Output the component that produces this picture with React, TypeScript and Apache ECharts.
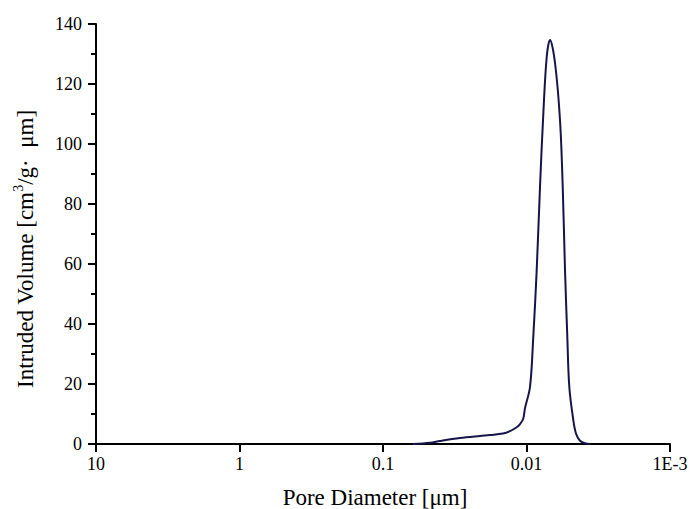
import React, { useEffect, useRef } from "react";
import * as echarts from "echarts";

// Pore diameter (µm) and intruded volume (cm³/g·µm)
const diameters = [
  0.0618, 0.0470, 0.0401, 0.0291, 0.0211, 0.0180, 0.01458, 0.01303, 0.0117,
  0.0111, 0.01053, 0.01024, 0.009454, 0.008967, 0.008489, 0.008051, 0.007636,
  0.00723, 0.006857, 0.006327, 0.005842, 0.005593, 0.005391, 0.005196,
  0.005031, 0.00472, 0.00452, 0.004239, 0.003912, 0.003611,
];
const volumes = [
  0, 0.4, 1.0, 2.0, 2.7, 3.0, 3.5, 4.3, 5.6,
  6.6, 8.5, 12, 19, 35.8, 58, 85.8, 110,
  129, 134.7, 127, 108, 85.8, 58, 35.8,
  19, 8, 3.5, 1.1, 0.3, 0,
];
const xTickLabels: Record<string, string> = {
  "1": "10",
  "0": "1",
  "-1": "0.1",
  "-2": "0.01",
  "-3": "1E-3",
};
const yTicks = { min: 0, max: 140, interval: 20 };

const FONT = "Liberation Serif";

export default function App() {
  const ref = useRef<HTMLDivElement>(null);
  useEffect(() => {
    if (!ref.current) return;
    const chart = echarts.init(ref.current, null, { renderer: "svg" });
    const data = diameters.map((d, i) => [d, volumes[i]]);
    chart.setOption({
      animation: false,
      backgroundColor: "#ffffff",
      textStyle: { fontFamily: FONT },
      grid: { left: 96, right: 21, top: 24, bottom: 65 },
      xAxis: {
        type: "log",
        logBase: 10,
        min: 0.001,
        max: 10,
        inverse: true,
        axisLine: { show: true, onZero: false, lineStyle: { color: "#000", width: 2 } },
        axisTick: { show: true, inside: false, length: 8, lineStyle: { color: "#000", width: 2 } },
        minorTick: { show: false },
        splitLine: { show: false },
        axisLabel: {
          color: "#000",
          fontFamily: FONT,
          fontSize: 18,
          margin: 11,
          formatter: (v: number) => {
            const k = String(Math.round(Math.log10(v)));
            return xTickLabels[k] ?? String(v);
          },
        },
      },
      yAxis: {
        type: "value",
        min: yTicks.min,
        max: yTicks.max,
        interval: yTicks.interval,
        axisLine: { show: true, lineStyle: { color: "#000", width: 2 } },
        axisTick: { show: true, inside: false, length: 8, lineStyle: { color: "#000", width: 2 } },
        minorTick: { show: true, splitNumber: 2, length: 5, lineStyle: { color: "#000", width: 2 } },
        splitLine: { show: false },
        axisLabel: {
          color: "#000",
          fontFamily: FONT,
          fontSize: 18,
          margin: 14,
        },
      },
      graphic: [
        {
          type: "text",
          x: 375,
          y: 497,
          style: {
            text: "Pore Diameter [μm]",
            fontFamily: FONT,
            fontSize: 23,
            fill: "#000",
            align: "center",
            verticalAlign: "middle",
          },
        },
        {
          type: "text",
          x: 25,
          y: 249,
          rotation: Math.PI / 2,
          style: {
            text: "{a|Intruded Volume [cm}{b|3}{a|/g·  μm]}",
            fill: "#000",
            align: "center",
            verticalAlign: "middle",
            rich: {
              a: { fontFamily: FONT, fontSize: 23, lineHeight: 27, fill: "#000" },
              b: { fontFamily: FONT, fontSize: 14, lineHeight: 15, verticalAlign: "top", fill: "#000" },
            },
          },
        },
      ],
      series: [
        {
          type: "line",
          data,
          smooth: 0.35,
          showSymbol: false,
          symbol: "none",
          lineStyle: { color: "#15154a", width: 2 },
        },
      ],
    });
    return () => chart.dispose();
  }, []);
  return (
    <div
      ref={ref}
      style={{ position: "fixed", left: 0, top: 0, width: 691, height: 509 }}
    />
  );
}
